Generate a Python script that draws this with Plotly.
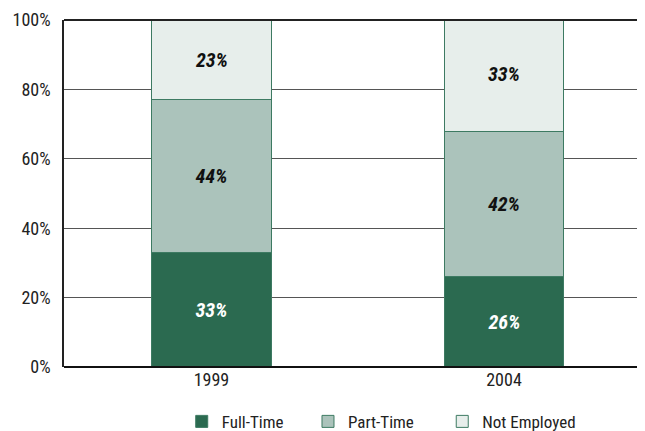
import plotly.graph_objects as go

years = ["1999", "2004"]
full_time = [33, 26]
part_time = [44, 42]
not_employed = [23, 33]
y_ticks = [0, 20, 40, 60, 80, 100]
y_tick_labels = ["0%", "20%", "40%", "60%", "80%", "100%"]
series_names = ["Full-Time", "Part-Time", "Not Employed"]

FONT = "Roboto Condensed, Liberation Sans Narrow, sans-serif"
NB = "\u00a0"
series = [
    (series_names[0] + NB * 5, full_time, "#2b6a50", "white"),
    (series_names[1] + NB * 6, part_time, "#abc3bb", "#111111"),
    (series_names[2], not_employed, "#e7eeeb", "#111111"),
]

fig = go.Figure()
for name, vals, color, tcolor in series:
    fig.add_trace(go.Bar(
        name=name, x=years, y=vals,
        marker=dict(color=color, line=dict(color="#3d7a62", width=1)),
        width=0.41,
        text=[f"<b><i>{v}%</i></b>" for v in vals],
        textposition="inside", insidetextanchor="middle",
        textfont=dict(family=FONT, size=20, color=tcolor),
        hoverinfo="skip",
    ))

fig.update_layout(
    barmode="stack",
    width=637, height=423,
    margin=dict(l=56, r=0, t=12, b=64, autoexpand=False),
    paper_bgcolor="white", plot_bgcolor="white",
    font=dict(family=FONT, size=17, color="#222222"),
    showlegend=True,
    legend=dict(orientation="h", x=0.546, xanchor="center", y=-0.158, yanchor="middle",
                font=dict(family=FONT, size=17, color="#222222"),
                traceorder="normal"),
    uniformtext=dict(minsize=8, mode="show"),
)
fig.update_xaxes(range=[-0.504, 1.482], showline=False, ticks="", showgrid=False,
                 automargin=False,
                 tickfont=dict(family=FONT, size=18, color="#222222"))
fig.update_yaxes(range=[0, 100], tickvals=y_ticks, ticktext=y_tick_labels,
                 showgrid=True, gridcolor="#555555", gridwidth=1.3,
                 showline=True, linecolor="#222222", linewidth=1.5, mirror=False,
                 ticks="", ticklabelstandoff=8, zeroline=False, automargin=False,
                 tickfont=dict(family=FONT, size=18, color="#222222"))
fig.add_shape(type="line", xref="paper", yref="paper", x0=0, x1=1, y0=1, y1=1,
              line=dict(color="#222222", width=2))
fig.add_shape(type="line", xref="paper", yref="paper", x0=0, x1=1, y0=0, y1=0,
              line=dict(color="#111111", width=2))

fig.write_html("out.html")
